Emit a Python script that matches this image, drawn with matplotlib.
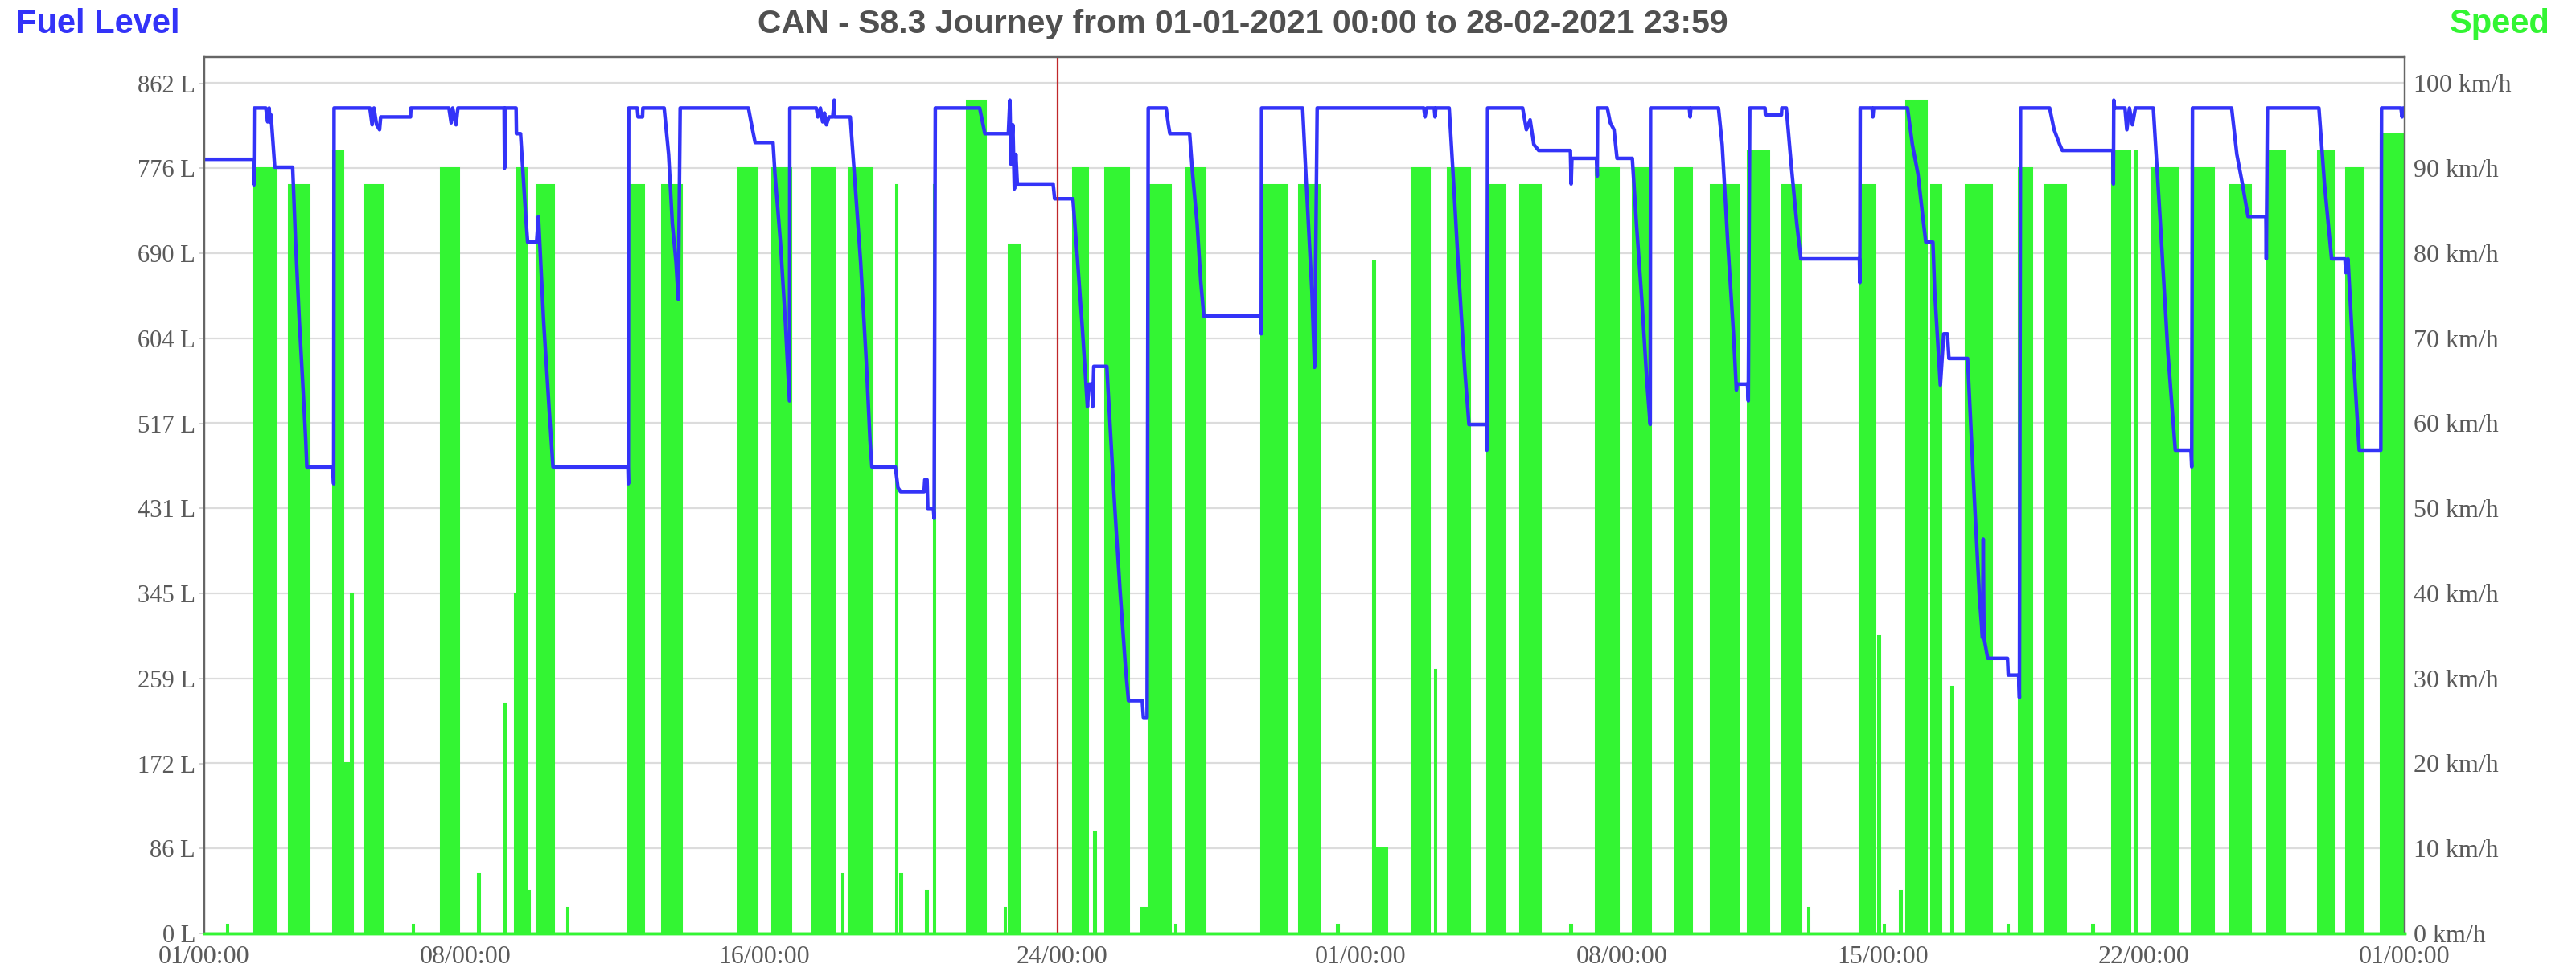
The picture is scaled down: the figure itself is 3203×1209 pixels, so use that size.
import numpy as np
import matplotlib
matplotlib.use("Agg")
import matplotlib.pyplot as plt

# ---- data -------------------------------------------------------------
# x in days since 01-01-2021 00:00
fuel_days = [
    0.0, 1.32, 1.33, 1.34, 1.65, 1.70, 1.74, 1.76, 1.79, 1.89, 2.37, 2.45, 2.55, 2.65, 2.72, 2.75,
    3.45, 3.47, 3.48, 4.44, 4.50, 4.55, 4.62, 4.70, 4.73, 5.53, 5.54, 6.56, 6.62, 6.66, 6.75, 6.80,
    8.04, 8.05, 8.07, 8.36, 8.37, 8.48, 8.62, 8.67, 8.91, 8.96, 9.10, 9.25, 9.35, 11.36, 11.37, 11.38,
    11.61, 11.63, 11.75, 11.76, 12.33, 12.45, 12.55, 12.65, 12.71, 12.76, 14.59, 14.70, 14.77, 15.25,
    15.30, 15.45, 15.58, 15.69, 15.70, 16.41, 16.45, 16.52, 16.58, 16.63, 16.68, 16.75, 16.85, 16.89,
    16.90, 17.32, 17.45, 17.60, 17.75, 17.85, 17.90, 18.53, 18.60, 18.67, 19.30, 19.32, 19.38, 19.40,
    19.55, 19.57, 19.60, 20.79, 20.93, 21.56, 21.60, 21.63, 21.68, 21.72, 21.76, 21.80, 22.76, 22.80,
    23.29, 23.40, 23.55, 23.68, 23.72, 23.80, 23.82, 23.85, 24.20, 24.22, 24.40, 24.55, 24.70, 24.78,
    25.15, 25.18, 25.28, 25.31, 25.79, 25.85, 25.89, 26.42, 26.50, 26.62, 26.72, 26.80, 28.33, 28.34,
    28.35, 29.45, 29.55, 29.70, 29.77, 29.84, 32.70, 32.73, 32.78, 32.98, 33.00, 33.02, 33.38, 33.50,
    33.65, 33.80, 33.91, 34.38, 34.39, 34.41, 35.35, 35.45, 35.55, 35.65, 35.78, 36.63, 36.65, 36.67,
    37.33, 37.35, 37.36, 37.62, 37.70, 37.80, 37.88, 38.29, 38.40, 38.55, 38.68, 38.77, 38.78, 39.82,
    39.84, 39.86, 40.60, 40.70, 40.85, 41.00, 41.08, 41.10, 41.38, 41.40, 41.44, 41.85, 41.86, 42.29,
    42.30, 42.42, 42.55, 42.70, 42.81, 44.38, 44.39, 44.40, 44.72, 44.74, 44.76, 45.67, 45.80, 45.95,
    46.10, 46.16, 46.35, 46.40, 46.55, 46.64, 46.74, 46.78, 47.28, 47.45, 47.60, 47.68, 47.70, 47.72,
    47.82, 48.35, 48.37, 48.65, 48.67, 48.70, 49.48, 49.60, 49.75, 49.82, 51.18, 51.19, 51.20, 51.22,
    51.50, 51.55, 51.62, 51.70, 51.78, 52.26, 52.45, 52.65, 52.85, 53.27, 53.29, 53.31, 54.36, 54.50,
    54.65, 54.80, 55.28, 55.29, 55.32, 56.70, 56.85, 57.04, 57.40, 57.42, 57.48, 57.60, 57.78, 58.36,
    58.38, 58.90, 58.93, 58.96, 59.0,
]
fuel_litres = [
    785, 785, 759, 837, 837, 823, 837, 823, 830, 777, 777, 700, 620, 551, 500, 473,
    473, 456, 837, 837, 820, 837, 820, 815, 828, 828, 837, 837, 822, 837, 820, 837,
    837, 776, 837, 837, 811, 811, 727, 701, 701, 727, 620, 530, 473, 473, 456, 837,
    837, 828, 828, 837, 837, 790, 720, 680, 643, 837, 837, 815, 802, 802,
    771, 700, 620, 540, 837, 837, 828, 837, 823, 832, 820, 828, 828, 845,
    828, 828, 760, 680, 580, 500, 473, 473, 452, 448, 448, 460, 460, 431,
    431, 421, 837, 837, 811, 811, 845, 780, 820, 755, 790, 760, 760, 745,
    745, 690, 610, 534, 557, 557, 534, 575, 575, 560, 440, 350, 270, 236,
    236, 219, 219, 837, 837, 820, 811, 811, 770, 720, 660, 626, 626, 608,
    837, 837, 760, 650, 574, 837, 837, 828, 837, 837, 828, 837, 837, 760,
    660, 570, 516, 516, 490, 837, 837, 815, 825, 800, 794, 794, 760, 786,
    786, 768, 837, 837, 822, 815, 786, 786, 720, 640, 560, 516, 837, 837,
    828, 837, 837, 800, 700, 610, 551, 557, 557, 540, 837, 837, 830, 830,
    837, 837, 780, 720, 684, 684, 660, 837, 837, 828, 837, 837, 800, 770,
    720, 701, 701, 650, 556, 608, 608, 583, 583, 450, 340, 300, 400, 300,
    279, 279, 262, 262, 239, 837, 837, 815, 800, 794, 794, 760, 845, 837,
    837, 815, 837, 820, 837, 837, 720, 590, 490, 490, 473, 837, 837, 790,
    760, 727, 727, 684, 837, 837, 760, 684, 684, 670, 684, 600, 490, 490,
    837, 837, 828, 837, 837,
]

# driving periods: start day, end day, top speed (km/h)
speed_start = [
    0.60, 1.31, 2.27, 3.45, 3.70, 3.93, 4.29, 5.58, 6.34, 7.34, 8.04, 8.32, 8.38, 8.68, 8.91, 9.72,
    11.37, 12.28, 14.32, 15.23, 16.31, 17.09, 17.28, 18.54, 18.66, 19.35, 19.56, 20.45, 21.45, 21.56,
    23.29, 23.86, 24.16, 25.12, 25.31, 26.02, 26.32, 28.34, 29.35, 30.37, 31.34, 31.45, 32.37, 32.99,
    33.33, 34.39, 35.28, 36.62, 37.31, 38.29, 39.44, 40.40, 41.39, 42.31, 42.99, 44.38, 44.88, 45.02,
    45.46, 45.62, 46.30, 46.83, 47.23, 48.34, 48.65, 49.33, 50.62, 51.16, 51.76, 52.21, 53.28, 54.31,
    55.32, 56.68, 57.43, 58.36,
]
speed_end = [
    0.63, 1.91, 2.80, 3.70, 3.90, 3.96, 4.76, 5.61, 6.82, 7.37, 8.07, 8.36, 8.62, 8.71, 9.35, 9.75,
    11.77, 12.79, 14.82, 15.72, 16.89, 17.12, 17.90, 18.57, 18.69, 19.38, 19.59, 20.93, 21.48, 21.85,
    23.68, 23.89, 24.78, 25.30, 25.89, 26.05, 26.82, 29.02, 29.89, 30.40, 31.38, 31.70, 32.85, 33.02,
    33.91, 34.87, 35.81, 36.65, 37.90, 38.77, 39.88, 41.13, 41.94, 42.81, 43.03, 44.79, 44.91, 45.05,
    45.49, 46.16, 46.55, 46.86, 47.91, 48.37, 48.99, 49.89, 50.65, 51.62, 51.79, 52.90, 53.87, 54.85,
    55.78, 57.09, 57.87, 59.00,
]
speed_top = [
    1, 90, 88, 92, 20, 40, 88, 1, 90, 7, 27, 40, 90, 5, 88, 3,
    88, 88, 90, 90, 90, 7, 90, 88, 7, 5, 88, 98, 3, 81,
    90, 12, 90, 3, 88, 1, 90, 88, 88, 1, 79, 10, 90, 31,
    90, 88, 88, 1, 90, 90, 90, 88, 92, 88, 3, 88, 35, 1,
    5, 98, 88, 29, 88, 1, 90, 88, 1, 92, 92, 90, 90, 88,
    92, 92, 90, 94,
]

x_tick_days = [0, 7, 15, 23, 31, 38, 45, 52, 59]
x_tick_labels = ["01/00:00", "08/00:00", "16/00:00", "24/00:00", "01/00:00",
                 "08/00:00", "15/00:00", "22/00:00", "01/00:00"]
fuel_tick_labels = ["0 L", "86 L", "172 L", "259 L", "345 L", "431 L",
                    "517 L", "604 L", "690 L", "776 L", "862 L"]
speed_tick_labels = ["0 km/h", "10 km/h", "20 km/h", "30 km/h", "40 km/h", "50 km/h",
                     "60 km/h", "70 km/h", "80 km/h", "90 km/h", "100 km/h"]
marker_day = 22.87

BLUE = "#3333f8"
GREEN = "#33f533"
TICK_GRAY = "#5a5a5a"

# ---- figure -------------------------------------------------------------
fig = plt.figure(figsize=(32.03, 12.09), dpi=100)
ax = fig.add_axes([0.0793, 0.0397, 0.8542, 0.9019])
ax2 = ax.twinx()
ax.set_zorder(2)
ax2.set_zorder(1)
ax.patch.set_visible(False)

# speed trace as a polyline built from the driving periods
sx, sy = [0.0], [0.0]
for s, e, v in zip(speed_start, speed_end, speed_top):
    sx += [s, s, e, e]
    sy += [0, v, v, 0]
sx.append(59.0)
sy.append(0.0)
ax2.fill_between(sx, sy, color=GREEN, lw=0)
ax2.plot(sx, sy, color=GREEN, lw=2.2, solid_joinstyle="miter")

ax.plot(fuel_days, fuel_litres, color=BLUE, lw=3.2)
ax.axvline(marker_day, color="#c0282a", lw=1.6)

ax.set_xlim(0, 59)
ax.set_ylim(0, 889)
ax2.set_ylim(0, 103.1)

ax.set_xticks(x_tick_days)
ax.set_xticklabels(x_tick_labels)
ax.set_yticks(np.linspace(0, 862, 11))
ax.set_yticklabels(fuel_tick_labels)
ax2.set_yticks(np.arange(0, 101, 10))
ax2.set_yticklabels(speed_tick_labels)

# grid lives on the lower axes so the green covers it
ax2.grid(True, axis="y", color="#dcdcdc", lw=1.6)
ax2.set_xticks(x_tick_days)
ax2.grid(True, axis="x", color="#dcdcdc", lw=1.6)
ax2.set_axisbelow(True)

serif = "Liberation Serif"
ax.tick_params(axis="y", length=5, width=1.4, color="#d0d0d0", pad=3,
               labelsize=22, labelcolor=TICK_GRAY)
ax.tick_params(axis="x", length=0, pad=11, labelsize=23, labelcolor=TICK_GRAY)
ax2.tick_params(axis="y", length=0, pad=8, labelsize=23, labelcolor=TICK_GRAY)
for lab in ax.get_xticklabels() + ax.get_yticklabels() + ax2.get_yticklabels():
    lab.set_fontfamily(serif)

for a in (ax, ax2):
    for side in ("left", "right", "top"):
        a.spines[side].set_color("#666666")
        a.spines[side].set_linewidth(1.6)
    a.spines["bottom"].set_color(GREEN)
    a.spines["bottom"].set_linewidth(2.5)

fig.text(0.0062, 0.975, "Fuel Level", color=BLUE, fontsize=30, fontweight="bold",
         family="Liberation Sans", ha="left", va="center")
fig.text(0.990, 0.975, "Speed", color=GREEN, fontsize=30, fontweight="bold",
         family="Liberation Sans", ha="right", va="center")
fig.text(0.4824, 0.975, "CAN - S8.3 Journey from 01-01-2021 00:00 to 28-02-2021 23:59",
         color="#505050", fontsize=29.5, fontweight="bold", family="Liberation Sans",
         ha="center", va="center")

fig.savefig("out.png", dpi=100)
